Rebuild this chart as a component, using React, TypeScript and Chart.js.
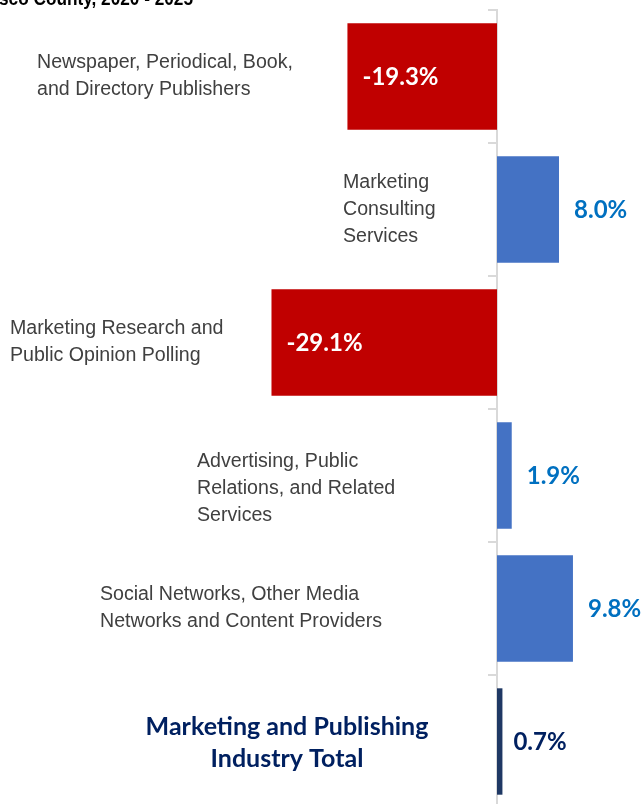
import React, { useEffect, useRef } from "react";
import { Chart, registerables } from "chart.js";

Chart.register(...registerables);

// ---- data ----
const categories: string[][] = [
  ["Newspaper, Periodical, Book,", "and Directory Publishers"],
  ["Marketing", "Consulting", "Services"],
  ["Marketing Research and", "Public Opinion Polling"],
  ["Advertising, Public", "Relations, and Related", "Services"],
  ["Social Networks, Other Media", "Networks and Content Providers"],
  ["Marketing and Publishing", "Industry Total"],
];
const values: number[] = [-19.3, 8.0, -29.1, 1.9, 9.8, 0.7];
const titleText = "Employment Change, San Francisco County, 2020 - 2025";

// ---- layout / style (not data) ----
const LABEL_X = [37, 343, 10, 197, 100, 287];
const LABEL_DY = [0, 0, 0, 13, 0, 1];
const RED = "#C00000";
const BLUE = "#4472C4";
const NAVY = "#1F3864";

const labelPlugin = {
  id: "customLabels",
  afterDatasetsDraw(chart: any) {
    const ctx = chart.ctx as CanvasRenderingContext2D;
    const meta = chart.getDatasetMeta(0);
    const last = values.length - 1;
    ctx.save();
    // title (cropped at top), narrow bold look
    ctx.save();
    ctx.translate(193, 5);
    ctx.scale(0.82, 1);
    ctx.font = "bold 21px 'Liberation Sans', Arial, sans-serif";
    ctx.fillStyle = "#000000";
    ctx.textAlign = "right";
    ctx.textBaseline = "alphabetic";
    ctx.fillText(titleText, 0, 0);
    ctx.restore();

    meta.data.forEach((bar: any, i: number) => {
      const left = Math.min(bar.x, bar.base);
      const right = Math.max(bar.x, bar.base);
      const cy = bar.y;
      const v = values[i];
      const txt = v.toFixed(1) + "%";
      ctx.font = "bold 24px Lato, 'Open Sans', sans-serif";
      ctx.textBaseline = "middle";
      ctx.textAlign = "left";
      if (v < 0) {
        ctx.fillStyle = "#FFFFFF";
        ctx.fillText(txt, left + 15, cy + 1);
      } else {
        ctx.fillStyle = i === last ? "#002060" : "#0070C0";
        ctx.fillText(txt, right + (i === last ? 11 : 15), cy + 1);
      }
      // category label
      const lines = categories[i];
      if (i === last) {
        ctx.font = "bold 25px Lato, 'Open Sans', sans-serif";
        ctx.fillStyle = "#002060";
        ctx.textAlign = "center";
        const lh = 32;
        const start = cy + LABEL_DY[i] - ((lines.length - 1) * lh) / 2;
        lines.forEach((l, k) => ctx.fillText(l, LABEL_X[i], start + k * lh));
      } else {
        ctx.font = "19.6px 'Liberation Sans', Arial, sans-serif";
        ctx.fillStyle = "#404040";
        ctx.textAlign = "left";
        const lh = 27;
        const start = cy + LABEL_DY[i] - ((lines.length - 1) * lh) / 2;
        lines.forEach((l, k) => ctx.fillText(l, LABEL_X[i], start + k * lh));
      }
    });
    ctx.restore();
  },
};

export default function App() {
  const ref = useRef<HTMLCanvasElement | null>(null);
  useEffect(() => {
    document.body.style.margin = "0";
    const canvas = ref.current!;
    const chart = new Chart(canvas, {
      type: "bar",
      data: {
        labels: categories.map((c) => c.join(" ")),
        datasets: [
          {
            data: values,
            backgroundColor: values.map((v, i) =>
              i === values.length - 1 ? NAVY : v < 0 ? RED : BLUE
            ),
            borderWidth: 0,
            categoryPercentage: 1,
            barPercentage: 0.8,
          },
        ],
      },
      options: {
        indexAxis: "y",
        animation: false,
        responsive: false,
        devicePixelRatio: 1,
        layout: { padding: { top: 10, left: 0, right: 0, bottom: 0 } },
        plugins: {
          legend: { display: false },
          tooltip: { enabled: false },
          title: { display: false },
        },
        scales: {
          x: {
            type: "linear",
            display: false,
            min: -64.13,
            max: 18.58,
          },
          y: {
            position: { x: 0 } as any,
            ticks: { display: false },
            grid: {
              offset: true,
              drawOnChartArea: false,
              drawTicks: true,
              tickLength: 8,
              color: "#D9D9D9",
              lineWidth: 2,
            },
            border: { display: true, color: "#D9D9D9", width: 2 },
          },
        },
      },
      plugins: [labelPlugin],
    });
    return () => chart.destroy();
  }, []);
  return (
    <div style={{ position: "relative", width: 641, height: 804, overflow: "hidden", background: "#fff" }}>
      <canvas ref={ref} width={641} height={808} style={{ display: "block", width: 641, height: 808 }} />
    </div>
  );
}
